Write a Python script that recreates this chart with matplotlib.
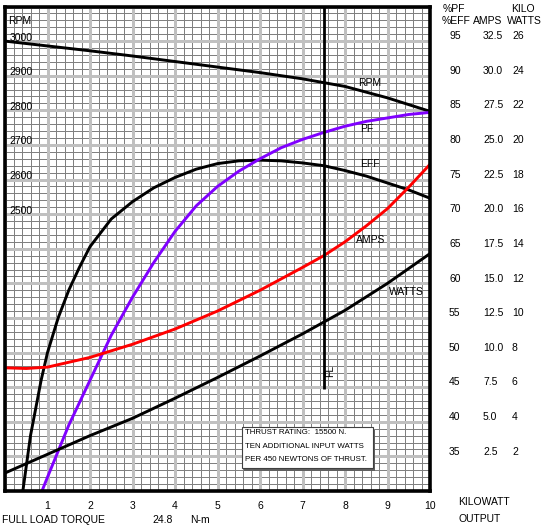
import matplotlib
matplotlib.use('Agg')
import matplotlib.pyplot as plt
from matplotlib.patches import Rectangle
from matplotlib import transforms
import numpy as np

plt.rcParams['font.family'] = ['Liberation Sans', 'DejaVu Sans']

# ---------------- data (x = kilowatt output) ----------------
rpm_x = [0, 1, 2, 3, 4, 5, 6, 7, 8, 9, 10]
rpm_v = [3000, 2986, 2972, 2957, 2941, 2925, 2909, 2891, 2869, 2836, 2797]

pf_x = [0.87, 1.0, 1.5, 2.0, 2.5, 3, 3.5, 4, 4.5, 5, 5.5, 6, 6.5, 7, 7.5, 8, 8.5, 9, 9.5, 10]
pf_v = [30, 32, 39.5, 46, 52.5, 58, 63, 67.5, 71.2, 74, 76.2, 78, 79.6, 80.8, 81.8, 82.7, 83.4, 83.9, 84.4, 84.7]

eff_x = [0.42, 0.6, 0.85, 1.0, 1.25, 1.5, 1.75, 2.0, 2.5, 3, 3.5, 4, 4.5, 5, 5.5, 6, 6.5, 7, 7.5, 8, 8.5, 9, 9.5, 10]
eff_v = [30, 38, 46, 50, 55, 59, 62.3, 65.3, 69.3, 71.8, 73.8, 75.3, 76.5, 77.3, 77.7, 77.8, 77.7, 77.4, 77.0, 76.3, 75.5, 74.5, 73.5, 72.3]

amps_x = [0, 0.5, 1, 2, 3, 4, 5, 6, 7, 7.5, 8, 8.5, 9, 9.5, 10]
amps_v = [8.9, 8.85, 8.95, 9.65, 10.6, 11.7, 13.0, 14.5, 16.15, 17.0, 18.0, 19.15, 20.4, 21.95, 23.6]

kw_x = [0, 1, 2, 3, 4, 5, 6, 7, 8, 9, 10]
kw_v = [1.04, 2.12, 3.2, 4.2, 5.36, 6.56, 7.8, 9.08, 10.44, 12.0, 13.72]

fl_x = 7.5
fl_bottom = 44.8

x_ticks = [1, 2, 3, 4, 5, 6, 7, 8, 9, 10]
pct_ticks = [95, 90, 85, 80, 75, 70, 65, 60, 55, 50, 45, 40, 35]
amp_labels = ['32.5', '30.0', '27.5', '25.0', '22.5', '20.0', '17.5', '15.0', '12.5', '10.0', '7.5', '5.0', '2.5']
kw_labels = ['26', '24', '22', '20', '18', '16', '14', '12', '10', '8', '6', '4', '2']
rpm_ticks = [3000, 2900, 2800, 2700, 2600, 2500]

box_lines = ["THRUST RATING:  15500 N.", "TEN ADDITIONAL INPUT WATTS", "PER 450 NEWTONS OF THRUST."]

# conversions onto the common percent scale
def rpm_to_pct(r):
    return 95 + (np.asarray(r, float) - 3000) / 20.0

def amps_to_pct(a):
    return 30 + 2.0 * np.asarray(a, float)

def kw_to_pct(k):
    return 30 + 2.5 * np.asarray(k, float)

# ---------------- figure ----------------
W, H = 546, 525
fig = plt.figure(figsize=(W / 100, H / 100), dpi=100)
L, R, B, T = 5, 430, 491, 6.5
ax = fig.add_axes([L / W, (H - B) / H, (R - L) / W, (B - T) / H])
ax.set_xlim(0, 10)
ax.set_ylim(30, 100)

# grid
ax.vlines(np.arange(0, 10.001, 0.2), 30, 100, color='#808080', lw=0.72, zorder=0.5, antialiased=False)
ax.hlines(np.arange(30, 100.001, 1), 0, 10, color='#808080', lw=0.72, zorder=0.5, antialiased=False)
ax.vlines(np.arange(0, 10.001, 1), 30, 100, color='#c0c0c0', lw=2.16, zorder=0.6, antialiased=False)
ax.hlines(np.arange(30, 100.001, 5), 0, 10, color='#c0c0c0', lw=2.16, zorder=0.6, antialiased=False)

lw = 2.1
ax.plot(rpm_x, rpm_to_pct(rpm_v), color='black', lw=lw, zorder=3)
ax.plot(eff_x, eff_v, color='black', lw=lw, zorder=3)
ax.plot(pf_x, pf_v, color='#8000ff', lw=lw, zorder=3)
ax.plot(amps_x, amps_to_pct(amps_v), color='#ff0000', lw=lw, zorder=3)
ax.plot(kw_x, kw_to_pct(kw_v), color='black', lw=lw, zorder=3)
ax.vlines([fl_x], fl_bottom, 100, color='black', lw=2.0, zorder=3)

fs = 7.5
ax.text(8.59, 88.9, 'RPM', fontsize=fs, ha='center', va='center', zorder=4)
ax.text(8.52, 82.3, 'PF', fontsize=fs, ha='center', va='center', zorder=4)
ax.text(8.59, 77.3, 'EFF', fontsize=fs, ha='center', va='center', zorder=4)
ax.text(8.6, 66.3, 'AMPS', fontsize=fs, ha='center', va='center', zorder=4)
ax.text(9.45, 58.8, 'WATTS', fontsize=fs, ha='center', va='center', zorder=4)
ax.text(7.66, 47.3, 'FL', fontsize=fs, ha='center', va='center', rotation=90, zorder=4)

# left RPM labels
lt = transforms.blended_transform_factory(ax.transAxes, ax.transData)
ax.text(0.008, 97.9, 'RPM', fontsize=fs, ha='left', va='center', transform=lt, zorder=4)
for r in rpm_ticks:
    ax.text(0.011, rpm_to_pct(r) + 0.5, str(r), fontsize=fs, ha='left', va='center', transform=lt, zorder=4)

# right columns
rt = transforms.blended_transform_factory(fig.transFigure, ax.transData)
for p, a, k in zip(pct_ticks, amp_labels, kw_labels):
    ax.text(449 / W, p + 0.7, str(p), fontsize=fs, ha='left', va='center', transform=rt, clip_on=False)
    ax.text(483 / W, p + 0.7, a, fontsize=fs, ha='left', va='center', transform=rt, clip_on=False)
    ax.text(512 / W, p + 0.7, k, fontsize=fs, ha='left', va='center', transform=rt, clip_on=False)

def ft(xp, yp, s, ha='center', **kw):
    fig.text(xp / W, 1 - yp / H, s, fontsize=fs, ha=ha, va='center', **kw)

ft(454, 8.5, '%PF')
ft(456, 20.5, '%EFF')
ft(488, 20.5, 'AMPS')
ft(522.5, 8.5, 'KILO')
ft(524, 20.5, 'WATTS')
ft(483.5, 502, 'KILOWATT')
ft(480, 519.5, 'OUTPUT')
ft(2.5, 520, 'FULL LOAD TORQUE', ha='left')
ft(152, 520, '24.8', ha='left')
ft(190, 520, 'N-m', ha='left')

# x tick labels
ax.set_xticks(x_ticks)
ax.set_xticklabels([str(v) for v in x_ticks], fontsize=fs)
ax.tick_params(axis='x', length=0, pad=7)
ax.set_yticks([])

for s in ax.spines.values():
    s.set_linewidth(2.6)
    s.set_color('black')
    s.set_zorder(5)

# note box
bx0, bx1, by0, by1 = 5.58, 8.66, 33.3, 39.2
ax.add_patch(Rectangle((bx0 + 0.04, by0 - 0.35), bx1 - bx0, by1 - by0, facecolor='#606060', edgecolor='none', zorder=4))
ax.add_patch(Rectangle((bx0, by0), bx1 - bx0, by1 - by0, facecolor='white', edgecolor='#404040', lw=0.8, zorder=4.1))
for yv, s in zip([38.5, 36.5, 34.55], box_lines):
    ax.text(bx0 + 0.07, yv, s, fontsize=5.7, ha='left', va='center', zorder=4.2)

fig.savefig('out.png', dpi=100)
